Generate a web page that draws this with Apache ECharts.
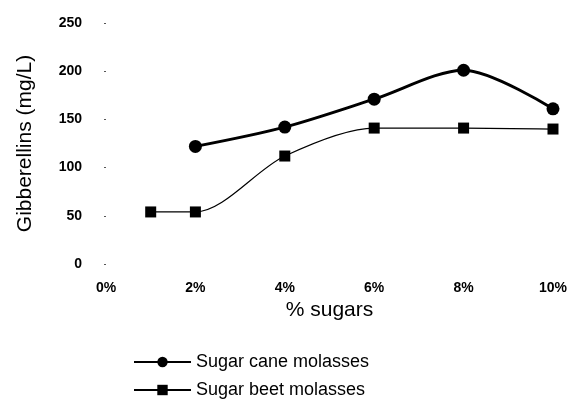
<!DOCTYPE html>
<html><head><meta charset="utf-8">
<script src="https://cdn.jsdelivr.net/npm/echarts@6/dist/echarts.min.js"></script>
<style>html,body{margin:0;padding:0;background:#fff}#c{width:570px;height:404px}</style>
</head><body><div id="c"></div>
<script>
const xTicks = [0, 2, 4, 6, 8, 10];
const caneX = [2, 4, 6, 8, 10];
const caneY = [122, 142, 171, 201, 161];
const beetX = [1, 2, 4, 6, 8, 10];
const beetY = [54, 54, 112, 141, 141, 140];
const seriesNames = ['Sugar cane molasses', 'Sugar beet molasses'];

const chart = echarts.init(document.getElementById('c'));
const font = 'Arial, "Liberation Sans", sans-serif';
chart.setOption({
  animation: false,
  grid: { left: 106, right: 14, top: 23, bottom: 140 },
  xAxis: {
    type: 'value', min: 0, max: 10, interval: 2,
    axisLine: { show: false }, axisTick: { show: false }, splitLine: { show: false },
    axisLabel: { formatter: v => v + '%', color: '#000', fontSize: 14, fontWeight: 'bold', fontFamily: font, margin: 17 },
    name: '% sugars', nameLocation: 'middle', nameGap: 34,
    nameTextStyle: { color: '#000', fontSize: 21, fontFamily: font }
  },
  yAxis: {
    type: 'value', min: 0, max: 250, interval: 50,
    axisLine: { show: false },
    axisTick: { show: true, length: 2, inside: false, lineStyle: { color: '#555', width: 1 } },
    splitLine: { show: false },
    axisLabel: { color: '#000', fontSize: 14, fontWeight: 'bold', fontFamily: font, margin: 24 },
    name: 'Gibberellins (mg/L)', nameLocation: 'middle', nameGap: 70, nameRotate: 90,
    nameTextStyle: { color: '#000', fontSize: 21, fontFamily: font }
  },
  legend: {
    orient: 'vertical', left: 133, top: 353, itemGap: 10, padding: 0,
    itemWidth: 57, itemHeight: 13,
    textStyle: { color: '#000', fontSize: 18, fontFamily: font },
    data: seriesNames
  },
  series: [
    {
      name: seriesNames[0], type: 'line', smooth: 0.3,
      data: caneX.map((x, i) => [x, caneY[i]]),
      symbol: 'circle', symbolSize: 13,
      lineStyle: { color: '#000', width: 3 },
      itemStyle: { color: '#000' }
    },
    {
      name: seriesNames[1], type: 'line', smooth: 0.3,
      data: beetX.map((x, i) => [x, beetY[i]]),
      symbol: 'rect', symbolSize: 11,
      lineStyle: { color: '#000', width: 1.2 },
      itemStyle: { color: '#000' }
    }
  ]
});
</script>
</body></html>
